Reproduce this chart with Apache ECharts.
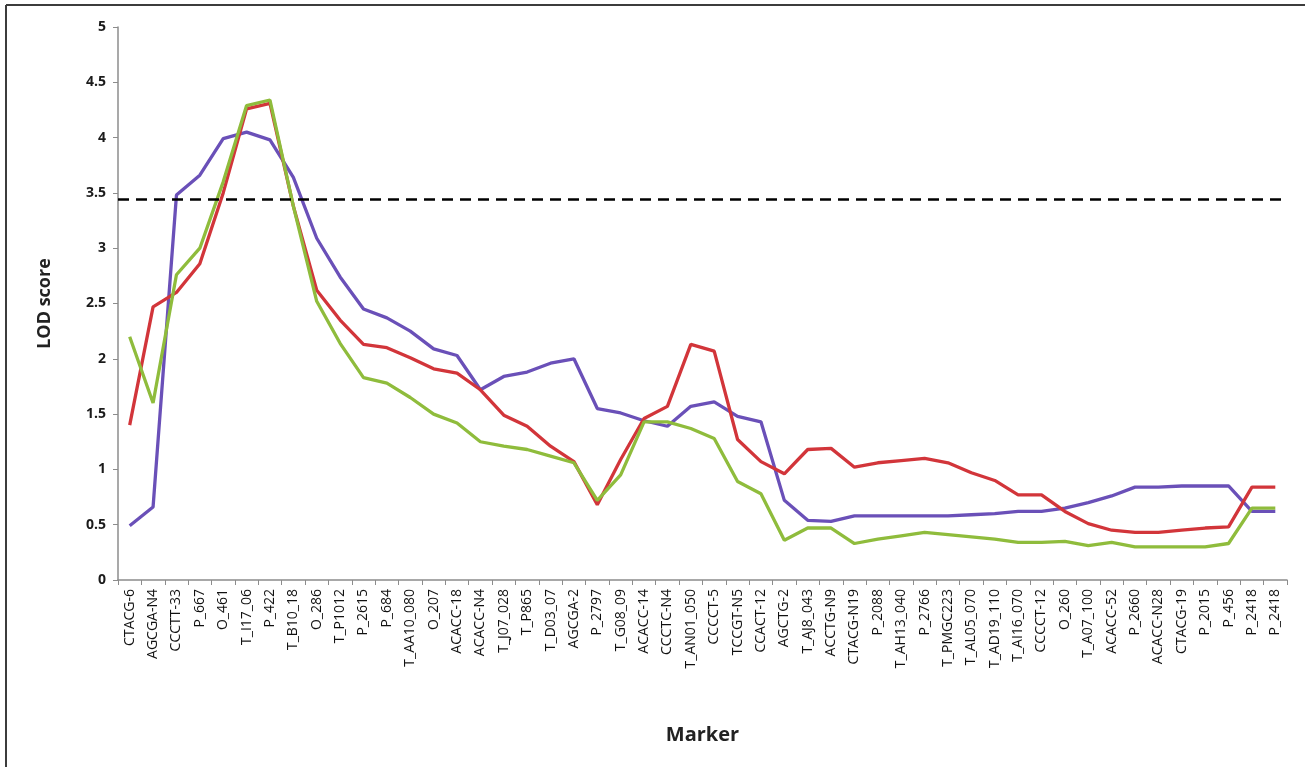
<!DOCTYPE html>
<html>
<head>
<meta charset="utf-8">
<script src="https://cdn.jsdelivr.net/npm/echarts@6/dist/echarts.min.js"></script>
<style>
html,body{margin:0;padding:0;background:#fff;}
#chart{width:1305px;height:767px;}
</style>
</head>
<body>
<div id="chart"></div>
<script>
const markers = ["CTACG-6","AGCGA-N4","CCCTT-33","P_667","O_461","T_I17_06","P_422","T_B10_18","O_286","T_P1012","P_2615","P_684","T_AA10_080","O_207","ACACC-18","ACACC-N4","T_J07_028","T_P865","T_D03_07","AGCGA-2","P_2797","T_G08_09","ACACC-14","CCCTC-N4","T_AN01_050","CCCCT-5","TCCGT-N5","CCACT-12","AGCTG-2","T_AJ8_043","ACCTG-N9","CTACG-N19","P_2088","T_AH13_040","P_2766","T_PMGC223","T_AL05_070","T_AD19_110","T_AI16_070","CCCCT-12","O_260","T_A07_100","ACACC-52","P_2660","ACACC-N28","CTACG-19","P_2015","P_456","P_2418","P_2418"];

const redSeries = [1.40,2.47,2.60,2.86,3.50,4.26,4.31,3.38,2.62,2.35,2.13,2.10,2.01,1.91,1.87,1.72,1.49,1.39,1.21,1.07,0.68,1.09,1.46,1.57,2.13,2.07,1.27,1.07,0.96,1.18,1.19,1.02,1.06,1.08,1.10,1.06,0.97,0.90,0.77,0.77,0.62,0.51,0.45,0.43,0.43,0.45,0.47,0.48,0.84,0.84];
const greenSeries = [2.20,1.60,2.76,3.00,3.60,4.29,4.34,3.38,2.52,2.14,1.83,1.78,1.65,1.50,1.42,1.25,1.21,1.18,1.12,1.06,0.72,0.95,1.43,1.43,1.37,1.28,0.89,0.78,0.36,0.47,0.47,0.33,0.37,0.40,0.43,0.41,0.39,0.37,0.34,0.34,0.35,0.31,0.34,0.30,0.30,0.30,0.30,0.33,0.65,0.65];
const purpleSeries = [0.49,0.66,3.48,3.66,3.99,4.05,3.98,3.64,3.09,2.74,2.45,2.37,2.25,2.09,2.03,1.72,1.84,1.88,1.96,2.00,1.55,1.51,1.44,1.39,1.57,1.61,1.48,1.43,0.72,0.54,0.53,0.58,0.58,0.58,0.58,0.58,0.59,0.60,0.62,0.62,0.65,0.70,0.76,0.84,0.84,0.85,0.85,0.85,0.62,0.62];
const thresholdLOD = 3.44;

const chart = echarts.init(document.getElementById('chart'), null, {renderer:'canvas'});
const font = '"Open Sans", "Liberation Sans", sans-serif';
const lineSeries = (name, data, color, extra) => Object.assign({
  name, type:'line', data, symbol:'none', smooth:false,
  lineStyle:{color, width:3.3}, itemStyle:{color}, z: 3
}, extra || {});

chart.setOption({
  animation:false,
  backgroundColor:'#ffffff',
  grid:{left:118, right:18, top:27, bottom:187},
  xAxis:{
    type:'category', data:markers, boundaryGap:true,
    name:'Marker', nameLocation:'middle', nameGap:145,
    nameTextStyle:{fontFamily:font, fontSize:20, fontWeight:'bold', color:'#222'},
    axisLine:{lineStyle:{color:'#8c8c8c', width:1.5}},
    axisTick:{show:true, alignWithLabel:false, interval:0, length:5, lineStyle:{color:'#8c8c8c'}},
    axisLabel:{rotate:90, interval:0, fontFamily:font, fontSize:14, color:'#111', margin:9}
  },
  yAxis:{
    type:'value', min:0, max:5, interval:0.5,
    name:'LOD score', nameLocation:'middle', nameGap:64, nameRotate:90,
    nameTextStyle:{fontFamily:font, fontSize:18, fontWeight:'bold', color:'#222'},
    axisLine:{show:true, lineStyle:{color:'#8c8c8c', width:1.5}},
    axisTick:{show:true, length:5, lineStyle:{color:'#8c8c8c'}},
    splitLine:{show:false},
    axisLabel:{fontFamily:font, fontSize:14, fontWeight:'bold', color:'#1a1a1a', margin:12}
  },
  series:[
    lineSeries('Purple', purpleSeries, '#6a50b8', {z:2}),
    lineSeries('Red', redSeries, '#d2353a', {z:3,
      markLine:{silent:true, symbol:['none','none'], label:{show:false},
        lineStyle:{color:'#000', type:[11,7], width:2.5},
        data:[{yAxis:thresholdLOD}]}}),
    lineSeries('Green', greenSeries, '#8fbc3c', {z:4})
  ],
  graphic:[
    {type:'line', shape:{x1:6, y1:5, x2:1305, y2:5}, style:{stroke:'#3c3c3c', lineWidth:2}},
    {type:'line', shape:{x1:6, y1:5, x2:6, y2:767}, style:{stroke:'#3c3c3c', lineWidth:2}}
  ]
});
</script>
</body>
</html>
